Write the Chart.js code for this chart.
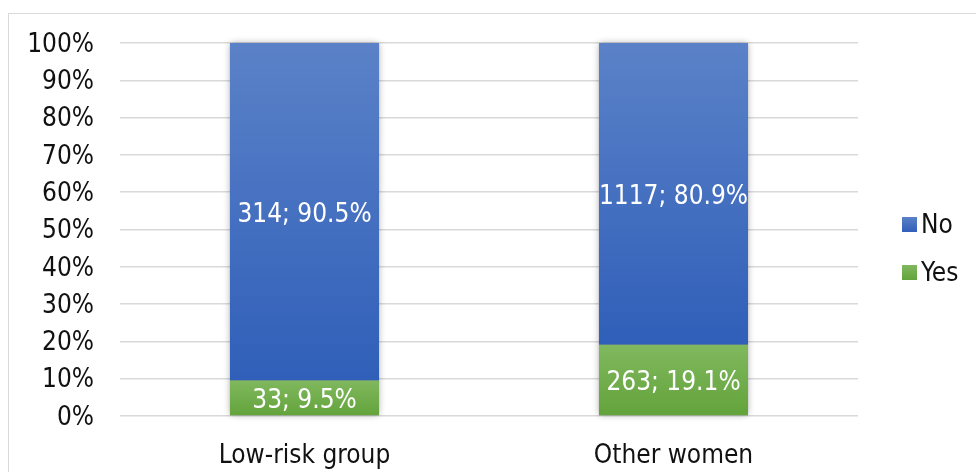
<!DOCTYPE html>
<html>
<head>
<meta charset="utf-8">
<script src="https://cdn.jsdelivr.net/npm/chart.js@4.4.1/dist/chart.umd.min.js"></script>
<style>
html,body{margin:0;padding:0;background:#fff;}
#wrap{position:relative;width:976px;height:472px;}
</style>
</head>
<body>
<div id="wrap"><canvas id="c" width="976" height="472"></canvas></div>
<script>
const categories = ["Low-risk group", "Other women"];
const yesCounts = [33, 263];
const noCounts = [314, 1117];
const yesPercent = [9.5, 19.1];
const noPercent = [90.5, 80.9];
const yTicks = [0, 10, 20, 30, 40, 50, 60, 70, 80, 90, 100];

const FONT = "'DejaVu Sans Condensed', 'DejaVu Sans', sans-serif";
const FSIZE = 26;

function gradFill(top, bottom) {
  return function (ctx) {
    const chart = ctx.chart;
    const ys = chart.scales && chart.scales.y;
    if (!ys || ctx.type !== 'data') return bottom;
    const i = ctx.dataIndex;
    let lo, hi;
    if (ctx.datasetIndex === 0) { lo = 0; hi = yesPercent[i]; }
    else { lo = yesPercent[i]; hi = yesPercent[i] + noPercent[i]; }
    const y0 = ys.getPixelForValue(hi), y1 = ys.getPixelForValue(lo);
    if (!isFinite(y0) || !isFinite(y1) || y0 === y1) return bottom;
    const g = chart.ctx.createLinearGradient(0, y0, 0, y1);
    g.addColorStop(0, top);
    g.addColorStop(1, bottom);
    return g;
  };
}

const frame = {
  id: 'frame',
  beforeDraw(chart) {
    const c = chart.ctx;
    c.save();
    c.strokeStyle = '#d9d9d9';
    c.lineWidth = 1;
    c.strokeRect(8.5, 13.5, 1000, 500);
    c.restore();
  }
};

const shadow = {
  id: 'shadow',
  beforeDatasetsDraw(chart) {
    const c = chart.ctx;
    const mYes = chart.getDatasetMeta(0), mNo = chart.getDatasetMeta(1);
    c.save();
    c.shadowColor = 'rgba(0,0,0,0.35)';
    c.shadowBlur = 7;
    c.fillStyle = '#888';
    mYes.data.forEach((el, i) => {
      const top = mNo.data[i].y;
      const bot = el.base;
      c.fillRect(el.x - el.width / 2, top, el.width, bot - top);
    });
    c.restore();
  }
};

const labels = {
  id: 'labelsInside',
  afterDatasetsDraw(chart) {
    const c = chart.ctx;
    c.save();
    c.font = FSIZE + 'px ' + FONT;
    c.fillStyle = '#ffffff';
    c.textAlign = 'center';
    c.textBaseline = 'middle';
    const sets = [[yesCounts, yesPercent], [noCounts, noPercent]];
    sets.forEach((s, d) => {
      chart.getDatasetMeta(d).data.forEach((el, i) => {
        const txt = s[0][i] + '; ' + s[1][i].toFixed(1) + '%';
        c.fillText(txt, el.x, (el.y + el.base) / 2 + 3);
      });
    });
    c.restore();
  }
};

const legendCustom = {
  id: 'legendCustom',
  afterDraw(chart) {
    const c = chart.ctx;
    c.save();
    c.font = FSIZE + 'px ' + FONT;
    c.textBaseline = 'middle';
    const items = [
      { text: chart.data.datasets[1].label, top: '#5b82c8', bot: '#305fb9', y: 224.5 },
      { text: chart.data.datasets[0].label, top: '#80b85e', bot: '#63a33b', y: 272.5 }
    ];
    items.forEach(it => {
      const g = c.createLinearGradient(0, it.y - 7.5, 0, it.y + 7.5);
      g.addColorStop(0, it.top); g.addColorStop(1, it.bot);
      c.fillStyle = g;
      c.fillRect(902, it.y - 7.5, 15, 15);
      c.fillStyle = '#111';
      c.fillText(it.text, 921, it.y + 2);
    });
    c.restore();
  }
};

new Chart(document.getElementById('c'), {
  type: 'bar',
  data: {
    labels: categories,
    datasets: [
      { label: 'Yes', data: yesPercent, backgroundColor: gradFill('#80b85e', '#63a33b'), borderWidth: 0 },
      { label: 'No', data: noPercent, backgroundColor: gradFill('#5b82c8', '#305fb9'), borderWidth: 0 }
    ]
  },
  options: {
    responsive: false,
    animation: false,
    events: [],
    layout: { padding: { left: 0, right: 118, top: 43, bottom: 0 } },
    datasets: { bar: { categoryPercentage: 1, barPercentage: 0.404 } },
    plugins: { legend: { display: false }, tooltip: { enabled: false } },
    scales: {
      x: {
        stacked: true,
        grid: { display: false },
        border: { display: false },
        ticks: { color: '#111', font: { family: FONT, size: FSIZE }, padding: 17, maxRotation: 0 },
        afterFit(s) { s.height = 56; }
      },
      y: {
        stacked: true,
        min: 0, max: 100,
        afterBuildTicks(s) { s.ticks = yTicks.map(v => ({ value: v })); },
        grid: { color: '#d9d9d9', lineWidth: 1.5, drawTicks: false },
        border: { display: false },
        ticks: { color: '#111', font: { family: FONT, size: FSIZE }, padding: 26, labelOffset: 2, callback: v => v + '%' },
        afterFit(s) { s.width = 120; }
      }
    }
  },
  plugins: [frame, shadow, labels, legendCustom]
});
</script>
</body>
</html>
